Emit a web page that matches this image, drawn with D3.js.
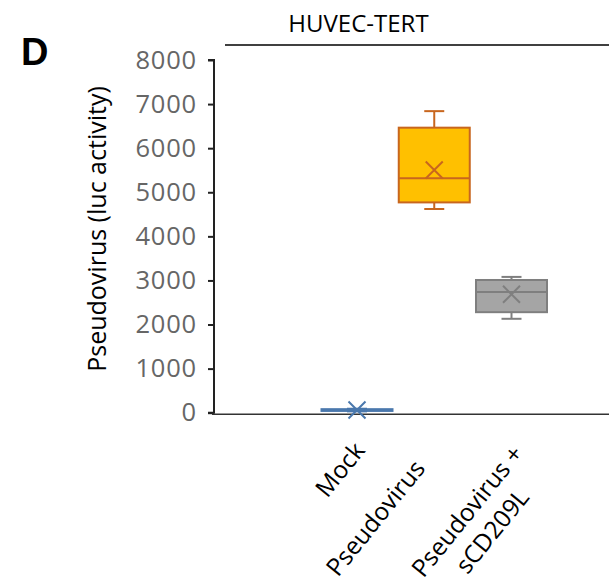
<!DOCTYPE html>
<html lang="en">
<head>
<meta charset="UTF-8">
<script src="https://d3js.org/d3.v7.min.js"></script>
<title>HUVEC-TERT</title>
<style>
  body { margin: 0; background: #fff; }
</style>
</head>
<body>
<svg width="609" height="582" id="mainsvg"></svg>
<script>
// data
const categories = ['Mock', 'Pseudovirus', 'Pseudovirus + sCD209L'];
const catLines = [['Mock'], ['Pseudovirus'], ['Pseudovirus +', 'sCD209L']];
const whiskerLow = [30, 4620, 2130];
const q1 = [40, 4770, 2280];
const median = [60, 5315, 2740];
const q3 = [80, 6465, 3010];
const whiskerHigh = [90, 6840, 3080];
const mean = [60, 5505, 2685];
const yTicks = [0, 1000, 2000, 3000, 4000, 5000, 6000, 7000, 8000];

const fills = ['#4a78ad', '#FFC000', '#A5A5A5'];
const strokes = ['#4a78ad', '#C8661E', '#7F7F7F'];

const svg = d3.select('#mainsvg');
const font = '"Open Sans", "Noto Sans", sans-serif';

const yScale = d3.scaleLinear().domain([0, 8000]).range([412.7, 60]);
const xScale = d3.scalePoint().domain(categories).range([357, 511.5]);
const boxW = 71, capW = 20, xSize = 8.5;

// panel letter and title
svg.append('text').text('D')
  .attr('x', 21).attr('y', 65)
  .attr('font-family', '"Liberation Sans", Arial, sans-serif')
  .attr('font-weight', 'bold').attr('font-size', 38);

svg.append('text').text('HUVEC-TERT')
  .attr('x', 358.5).attr('y', 32)
  .attr('text-anchor', 'middle')
  .attr('font-family', font).attr('font-size', 24);

svg.append('line')
  .attr('x1', 225).attr('x2', 609).attr('y1', 45).attr('y2', 45)
  .attr('stroke', '#000').attr('stroke-width', 1.5);

// y axis
const yAxis = d3.axisLeft(yScale).tickValues(yTicks).tickSize(6).tickPadding(11)
  .tickFormat(d3.format('d'));
const yg = svg.append('g').attr('transform', 'translate(214,0)').call(yAxis);
yg.select('.domain').attr('stroke', '#222').attr('stroke-width', 2)
  .attr('d', `M-6,${yScale(8000)}H0V${yScale(0)}H-6`);
yg.selectAll('.tick line').attr('stroke', '#222').attr('stroke-width', 2);
yg.selectAll('.tick text').attr('font-size', 25.5).attr('letter-spacing', 0.8)
  .attr('font-family', font).attr('fill', '#666');

svg.append('text').text('Pseudovirus (luc activity)')
  .attr('transform', 'translate(106,229) rotate(-90)')
  .attr('text-anchor', 'middle')
  .attr('font-family', font).attr('font-size', 25);

// x baseline
svg.append('line')
  .attr('x1', 212).attr('x2', 609).attr('y1', 414.3).attr('y2', 414.3)
  .attr('stroke', '#333').attr('stroke-width', 1.5);

// boxes
const g = svg.append('g');
categories.forEach((c, i) => {
  const cx = xScale(c);
  const col = strokes[i];
  // whiskers
  g.append('line').attr('x1', cx).attr('x2', cx)
    .attr('y1', yScale(q3[i])).attr('y2', yScale(whiskerHigh[i]))
    .attr('stroke', col).attr('stroke-width', 2);
  g.append('line').attr('x1', cx).attr('x2', cx)
    .attr('y1', yScale(q1[i])).attr('y2', yScale(whiskerLow[i]))
    .attr('stroke', col).attr('stroke-width', 2);
  [whiskerHigh[i], whiskerLow[i]].forEach(v => {
    g.append('line').attr('x1', cx - capW / 2).attr('x2', cx + capW / 2)
      .attr('y1', yScale(v)).attr('y2', yScale(v))
      .attr('stroke', col).attr('stroke-width', 2);
  });
  // box
  g.append('rect')
    .attr('x', cx - boxW / 2).attr('width', boxW)
    .attr('y', yScale(q3[i])).attr('height', yScale(q1[i]) - yScale(q3[i]))
    .attr('fill', fills[i]).attr('stroke', col).attr('stroke-width', 2);
  g.append('line').attr('x1', cx - boxW / 2).attr('x2', cx + boxW / 2)
    .attr('y1', yScale(median[i])).attr('y2', yScale(median[i]))
    .attr('stroke', col).attr('stroke-width', 2);
  // mean marker
  const my = yScale(mean[i]);
  g.append('path')
    .attr('d', `M${cx - xSize},${my - xSize}L${cx + xSize},${my + xSize}M${cx - xSize},${my + xSize}L${cx + xSize},${my - xSize}`)
    .attr('stroke', col).attr('stroke-width', 2).attr('fill', 'none');
});

// rotated category labels (end of first line placed relative to the tick)
const labelShift = [[9, 37], [-8, 55], [13, 40]];
categories.forEach((c, i) => {
  const t = svg.append('text')
    .attr('transform', `translate(${xScale(c) + labelShift[i][0]},${414 + labelShift[i][1]}) rotate(-51)`)
    .attr('font-family', font).attr('font-size', 24.5);
  const lines = catLines[i];
  const first = t.append('tspan').text(lines[0]).attr('x', 0).attr('y', 0).attr('text-anchor', 'end');
  if (lines.length > 1) {
    const len = first.node().getComputedTextLength();
    t.append('tspan').text(lines[1]).attr('x', -len / 2).attr('y', 32).attr('text-anchor', 'middle');
  }
});
</script>
</body>
</html>
